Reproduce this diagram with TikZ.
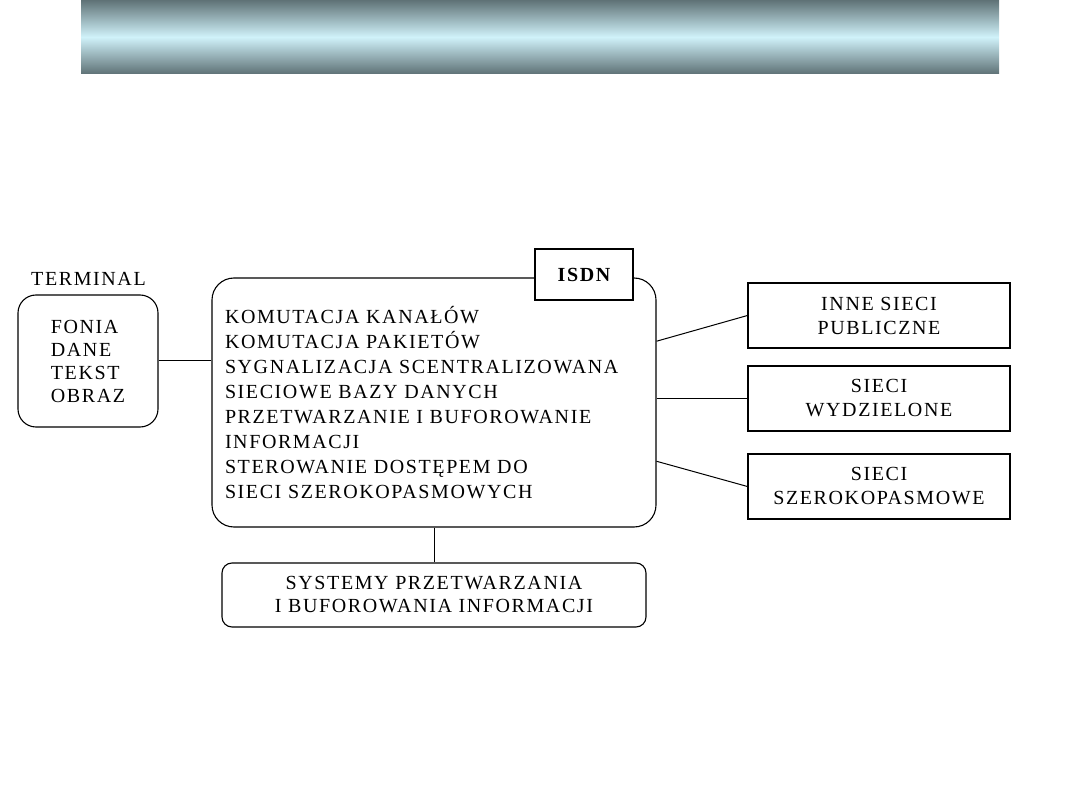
\documentclass[tikz,border=0pt]{standalone}
\usepackage{fontspec}
\setmainfont{Liberation Serif}[LetterSpace=8]
\usetikzlibrary{calc}
\definecolor{bandedge}{HTML}{5F7276}
\definecolor{bandmid}{HTML}{D0F2FA}
\begin{document}
\begin{tikzpicture}[x=1pt,y=-1pt,
  every node/.style={font=\fontsize{20}{25}\selectfont},
  box/.style={draw, line width=1.1pt, inner sep=0pt},
  rbox/.style={box, rounded corners=18pt},
  netbox/.style={box, minimum width=262pt, minimum height=65pt, align=center, font=\fontsize{20}{24}\selectfont},
  conn/.style={line width=1pt}]
\useasboundingbox (0,0) rectangle (1080,810);
% banner
\shade[top color=bandedge, bottom color=bandedge, middle color=bandmid] (81,0) rectangle (999,74);
% terminal
\node (termlabel) at (88.5,279) {TERMINAL};
\node[rbox, minimum width=140pt, minimum height=132pt, align=left, font=\fontsize{20}{23}\selectfont] (term) at (88,361) {FONIA\\DANE\\TEKST\\OBRAZ};
% main ISDN box
\node[rbox, rounded corners=22pt, minimum width=444pt, minimum height=249pt, inner xsep=13pt, text width=418pt, align=left] (main) at (434,402.5)
 {KOMUTACJA KANAŁÓW\\KOMUTACJA PAKIETÓW\\SYGNALIZACJA SCENTRALIZOWANA\\SIECIOWE BAZY DANYCH\\PRZETWARZANIE I BUFOROWANIE\\INFORMACJI\\STEROWANIE DOSTĘPEM DO\\SIECI SZEROKOPASMOWYCH};
\node[box, fill=white, minimum width=98pt, minimum height=51pt, font=\fontsize{20}{24}\bfseries\selectfont] (isdn) at (584,274.5) {ISDN};
% right boxes
\node[netbox] (inne) at (879,315.5) {INNE SIECI\\PUBLICZNE};
\node[netbox] (wyd) at (879,398.5) {SIECI\\WYDZIELONE};
\node[netbox] (szer) at (879,486.5) {SIECI\\SZEROKOPASMOWE};
% bottom box
\node[rbox, rounded corners=10pt, minimum width=424pt, minimum height=64pt, align=center, font=\fontsize{20}{23}\selectfont] (sys) at (434,595) {SYSTEMY PRZETWARZANIA\\I BUFOROWANIA INFORMACJI};
% connectors
\draw[conn] (term.east) -- (term.east -| main.west);
\coordinate (m1) at ($(main.north east)!0.255!(main.south east)$);
\coordinate (m3) at ($(main.north east)!0.735!(main.south east)$);
\draw[conn] (m1) -- (inne.west);
\draw[conn] (wyd.west -| main.east) -- (wyd.west);
\draw[conn] (m3) -- (szer.west);
\draw[conn] (main.south) -- (sys.north);
\end{tikzpicture}
\end{document}
